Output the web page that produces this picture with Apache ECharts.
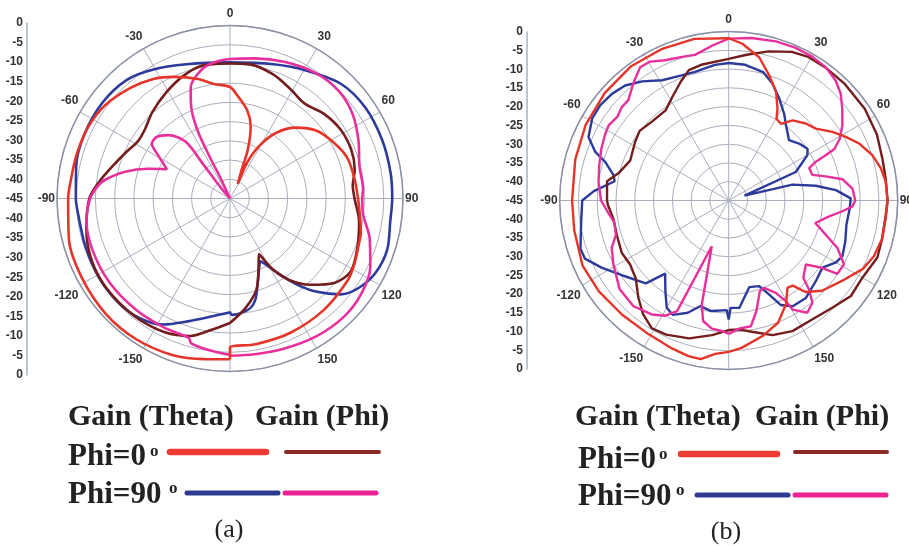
<!DOCTYPE html>
<html><head><meta charset="utf-8">
<script src="https://cdn.jsdelivr.net/npm/echarts/dist/echarts.min.js"></script>
<style>html,body{margin:0;padding:0;background:#fff}#c{width:909px;height:546px}</style>
</head><body><div id="c"></div>
<script>
// ---------- chart (a) ----------
const aRedAng = [-180,-171,-160,-146,-133,-118,-104,-90,-84,-74,-63,-53,-42,-33,-25,-15,-8,0,4,11,16,20,22,28,25.5,29,35,43,52,62,71,81,90,96,104,110,118,125,140,156,170,180,180];
const aRedDb  = [-3.2,-2.7,-1.6,-1.0,-0.9,-1.3,-1.8,-2.9,-3.3,-3.5,-3.7,-4.5,-6.3,-8.0,-10.1,-12.8,-14.9,-16.0,-18.1,-21.6,-25.5,-31.4,-36.7,-40.7,-34.6,-29.4,-24.2,-19.8,-16.4,-14.3,-12.7,-12.2,-11.7,-11.1,-9.9,-9.4,-8.4,-7.7,-7.1,-6.7,-6.5,-6.2,-3.2];

const aMarAng = [-180,-172,-164,-154,-141,-126,-114,-102,-90,-83,-75,-66,-58,-51,-42,-31,-21,-12,0,8,19,29,38,48,58,68,77,84,90,100,111,121,129,137,144,149,152.5,158.5,164,172,180];
const aMarDb  = [-12.6,-10.5,-7.8,-6.3,-5.6,-5.3,-5.6,-6.8,-8.4,-10.6,-13.2,-15.4,-16.8,-16.5,-14.8,-12.8,-10.9,-9.7,-9.9,-9.7,-10.8,-12.5,-13.6,-12.1,-11.1,-11.0,-11.7,-12.9,-12.6,-10.9,-9.5,-8.3,-10.1,-14.3,-18.8,-23.6,-28.7,-24.8,-20.2,-16.2,-12.6];

const aBlueAng = [-180,-171,-161,-152,-143,-133,-121,-108,-96,-90,-78,-66,-53,-41,-31,-18,0,18,31,44,56,69,81,90,98,108,117,125,131,137,142,147,152,154,162,166,169.5,175,179,180];
const aBlueDb  = [-15.4,-13.9,-11.2,-7.9,-6.0,-5.3,-5.2,-5.4,-5.3,-4.9,-4.1,-3.6,-3.5,-4.1,-5.9,-8.3,-9.6,-8.3,-6.2,-3.5,-2.6,-2.6,-2.7,-2.8,-2.9,-2.0,-2.5,-4.3,-7.0,-11.8,-16.5,-21.6,-25.8,-26.8,-21.7,-17.8,-16.0,-15.0,-14.7,-15.6];

const aPinkAng = [-180,-172,-165,-163.5,-153,-140,-125,-111,-99,-90,-85,-82,-76,-70,-65,-59,-55,-50,-44,-38,-38,-40,-30,-25,-26,-25.5,-23,-19.6,-15.6,-9.4,0,10,22,34,45,55,66,76,86,90,97,106,116,126,136,148,161,171,180];
const aPinkDb  = [-4.3,-5.2,-6.0,-7.2,-7.3,-7.1,-6.8,-6.8,-7.2,-8.6,-10.3,-11.8,-16.6,-22.4,-26.9,-23.2,-20.2,-20.1,-22.1,-26.3,-33.4,-40.9,-45,-38.7,-32.9,-25.4,-19.2,-14.5,-12.0,-9.8,-8.7,-8.0,-6.7,-5.5,-5.2,-6.2,-8.4,-10.3,-10.3,-10.6,-10.1,-7.2,-4.4,-2.8,-2.3,-2.7,-3.5,-4.0,-4.1];

// ---------- chart (b) ----------
const bRedAng = [-180,-175,-170,-165.5,-159,-149,-137,-125,-114,-101,-90,-75,-62,-49,-36,-24,-12,0,5,12,18,23.6,28,30.3,34.2,38.6,45,50.5,56.5,61.5,66.4,72.5,78,83,90,96,104,111,117,125,134,140,143,146,151,158,166,175,180];
const bRedDb  = [-4.7,-4.0,-2.1,-2.2,-2.8,-3.5,-3.4,-2.8,-2.4,-3.1,-3.3,-2.7,-1.9,-1.3,-0.8,-0.9,-1.0,-1.8,-3.1,-6.0,-10.0,-13.5,-17.3,-19.8,-20.3,-17.7,-16.0,-14.9,-11.9,-9.5,-7.1,-4.9,-3.6,-2.9,-2.7,-2.9,-2.9,-3.6,-4.9,-7.9,-10.4,-13.2,-16.6,-17.0,-13.5,-9.9,-7.8,-5.6,-4.7];

const bMarAng = [-180,-173,-164,-155,-149,-143,-137,-130,-123,-116,-108,-99,-92,-90,-81,-76,-68,-58,-52,-44,-35,-28,-22,-17,-11,0,7,15,23,29,36,45,56,66,75,82,90,95,104,111,120,128,136,145,154,162,170,175,180];
const bMarDb  = [-10.5,-8.9,-6.8,-5.6,-5.3,-7.1,-9.7,-12.7,-13.7,-13.3,-13.8,-13.9,-12.8,-12.6,-12.2,-14.8,-16.7,-15.6,-14.9,-15.7,-15.7,-13.4,-10.9,-8.7,-8.1,-7.3,-5.9,-3.9,-2.0,-1.3,-1.2,-1.2,-1.3,-1.8,-2.6,-2.8,-2.7,-3.0,-2.9,-2.6,-3.9,-3.7,-5.3,-6.3,-6.3,-7.3,-9.5,-10.5,-10.5];

const bBlueAng = [-180,-179,-171,-165,-160,-154,-150,-145,-139,-135,-125,-118,-112,-108,-99,-90,-86,-80.4,-77.6,-72.7,-70,-65.6,-59,-53.5,-47.6,-42,-36,-29,-20.6,-14.7,-5.8,0,7,15,20.6,26.4,32.6,37.3,45,51,56.7,60,67,73,76,80.4,84.5,89,93.5,101.6,109.3,116,120,125.6,132.7,141.6,148.8,153.5,156.7,160.4,166.6,174.3,179,180];
const bBlueDb  = [-13.3,-15.8,-15.2,-15.9,-13.2,-11.1,-12.0,-15.6,-19.2,-13.8,-10.3,-6.8,-3.7,-3.5,-5.2,-6.0,-9.0,-14.2,-13.6,-10.6,-7.2,-4.0,-2.6,-2.4,-2.9,-3.8,-5.8,-8.4,-9.4,-9.6,-8.7,-8.4,-8.6,-9.6,-11.8,-14.7,-17.6,-19.8,-22.3,-20.9,-19.9,-20.8,-25.6,-40.6,-27.5,-21.5,-16.3,-12.5,-12.7,-13.0,-12.1,-11.3,-12.0,-14.3,-13.4,-11.9,-12.1,-13.9,-17.7,-20.8,-21.3,-16.3,-16.4,-13.3];

const bPinkAng = [-180,-177,-172.5,-168,-165.5,-159.7,-155,-151,-146,-138,-129,-119,-112,-107,-101,-96,-90,-82,-75,-68,-62,-58,-53,-49,-45,-41,-37.5,-33.6,-29.5,-24.4,-18,-13,-6,0,8,16.5,23.5,30,36,41.7,46.4,51,56.5,61,64,65,66,68,73,76,79.4,84.5,90,92.7,95.4,99,104.6,109.4,113.6,119,124,126,129.7,136,138,140.7,145,149.6,150.4,153,158,161,166,170,175,180];
const bPinkDb  = [-9.5,-10.2,-10.6,-12.2,-16.4,-32.0,-12.5,-9.9,-8.4,-7.1,-7.6,-9.9,-11.4,-13.6,-14.0,-12.8,-11.0,-10.0,-9.3,-8.4,-7.7,-7.3,-7.9,-7.2,-7.2,-5.6,-4.1,-2.4,-2.5,-4.0,-4.8,-5.2,-3.5,-1.9,-1.3,-0.8,-0.6,-0.7,-1.1,-2.2,-3.8,-6.1,-8.7,-11.2,-13.7,-16.5,-19.6,-21.9,-21.7,-18.4,-14.2,-11.9,-11.3,-12.0,-14.6,-17.9,-21.2,-17.6,-13.4,-9.9,-10.1,-14.6,-18.3,-16.4,-13.0,-9.8,-8.5,-11.3,-14.1,-17.4,-19.9,-19.5,-14.6,-11.0,-10.8,-9.5];

// axis settings
const radiusMin = -45, radiusMax = 0, radiusStep = 5;
const angleMin = -180, angleMax = 180, angleStep = 30;

const COL = { red:'#e5352b', mar:'#731d1c', blue:'#2c3b9b', pink:'#e8309c' };
const GRID = '#a9aebd';

function pairs(ang, db){ return ang.map((a,i)=>[db[i], a]); }
function line(ang, db, color, pi, w, sm){
  return { type:'line', coordinateSystem:'polar', polarIndex:pi, data:pairs(ang,db),
    symbol:'none', smooth:sm||false, silent:true, lineStyle:{color:color, width:w||2.3}, z:3 };
}
function angAxis(pi){
  return { polarIndex:pi, type:'value', min:angleMin, max:angleMax, interval:angleStep,
    startAngle:270, clockwise:true,
    axisLine:{lineStyle:{color:'#8a91a4', width:1.5}},
    axisTick:{show:false},
    splitLine:{show:true, lineStyle:{color:GRID, width:1}},
    axisLabel:{margin:2, padding:[4,0,4,0], color:'#333', fontWeight:'bold', fontSize:12,
      fontFamily:'Liberation Sans, Arial, sans-serif',
      formatter:v => v === -180 ? '' : String(v)} };
}
function radAxis(pi){
  return { polarIndex:pi, type:'value', min:radiusMin, max:radiusMax, interval:radiusStep,
    axisLine:{show:false}, axisTick:{show:false}, axisLabel:{show:false},
    splitLine:{show:true, lineStyle:{color:GRID, width:1}} };
}
function yAx(gi){
  return { gridIndex:gi, type:'value', min:radiusMin, max:-radiusMin, interval:radiusStep,
    axisLine:{show:true, lineStyle:{color:'#a6b2c6', width:1.5}}, axisTick:{show:false},
    splitLine:{show:false},
    axisLabel:{margin:4, color:'#333', fontWeight:'bold', fontSize:12,
      fontFamily:'Liberation Sans, Arial, sans-serif', showMinLabel:true, showMaxLabel:true,
      formatter:v => String(Math.abs(v) - 45)} };
}

const serifB = (s)=> 'bold ' + s + 'px "Liberation Serif", "Times New Roman", serif';
function txt(x, y, t, font, align){
  return { type:'text', x:x, y:y, silent:true,
    style:{ text:t, font:font, fill:'#222', align:align||'left', verticalAlign:'middle' } };
}
function seg(x1, x2, y, color, w){
  return { type:'line', silent:true, shape:{x1:x1, y1:y, x2:x2, y2:y},
    style:{ stroke:color, lineWidth:w, lineCap:'round' } };
}

const graphics = [
  // (a)
  txt(68, 417, 'Gain (Theta)', serifB(30)),
  txt(255, 417, 'Gain (Phi)', serifB(30)),
  txt(68, 457, 'Phi=0', serifB(31)),
  txt(150, 452, 'o', serifB(17)),
  txt(68, 495, 'Phi=90', serifB(31)),
  txt(169, 489, 'o', serifB(17)),
  seg(170, 266, 452, '#ee3b36', 6.5),
  seg(286, 379, 452, '#8c2a25', 4),
  seg(187, 278, 493, '#2e3a92', 5),
  seg(285, 376, 493, '#ec2393', 5),
  txt(229, 530, '(a)', '26px "Liberation Serif", "Times New Roman", serif', 'center'),
  // (b)
  txt(575, 417, 'Gain (Theta)', serifB(30)),
  txt(755, 417, 'Gain (Phi)', serifB(30)),
  txt(578, 460, 'Phi=0', serifB(31)),
  txt(659, 455, 'o', serifB(17)),
  txt(578, 497, 'Phi=90', serifB(31)),
  txt(676, 491, 'o', serifB(17)),
  seg(681, 777, 454, '#ee3b36', 6.5),
  seg(795, 887, 452, '#8c2a25', 4),
  seg(697, 788, 495, '#2e3a92', 5),
  seg(795, 886, 495, '#ec2393', 5),
  txt(726, 532, '(b)', '26px "Liberation Serif", "Times New Roman", serif', 'center')
];

const chart = echarts.init(document.getElementById('c'), null, {renderer:'canvas'});
chart.setOption({
  animation:false,
  backgroundColor:'#fff',
  polar:[ {center:[230,198.5], radius:173}, {center:[728.7,200.5], radius:169} ],
  angleAxis:[ angAxis(0), angAxis(1) ],
  radiusAxis:[ radAxis(0), radAxis(1) ],
  grid:[ {left:27, top:23, width:1, height:352}, {left:527, top:32, width:1, height:337} ],
  xAxis:[ {gridIndex:0, type:'value', show:false}, {gridIndex:1, type:'value', show:false} ],
  yAxis:[ yAx(0), yAx(1) ],
  series:[
    line(aBlueAng, aBlueDb, COL.blue, 0, 2.6, 0.3),
    line(aMarAng, aMarDb, COL.mar, 0, 2.6, 0.3),
    line(aPinkAng, aPinkDb, COL.pink, 0, 2.6, 0.3),
    line(aRedAng, aRedDb, COL.red, 0, 2.6, 0.3),
    line(bBlueAng, bBlueDb, COL.blue, 1, 2.4),
    line(bMarAng, bMarDb, COL.mar, 1, 2.4),
    line(bPinkAng, bPinkDb, COL.pink, 1, 2.4),
    line(bRedAng, bRedDb, COL.red, 1, 2.4)
  ],
  graphic:{ elements: graphics }
});
</script>
</body></html>
